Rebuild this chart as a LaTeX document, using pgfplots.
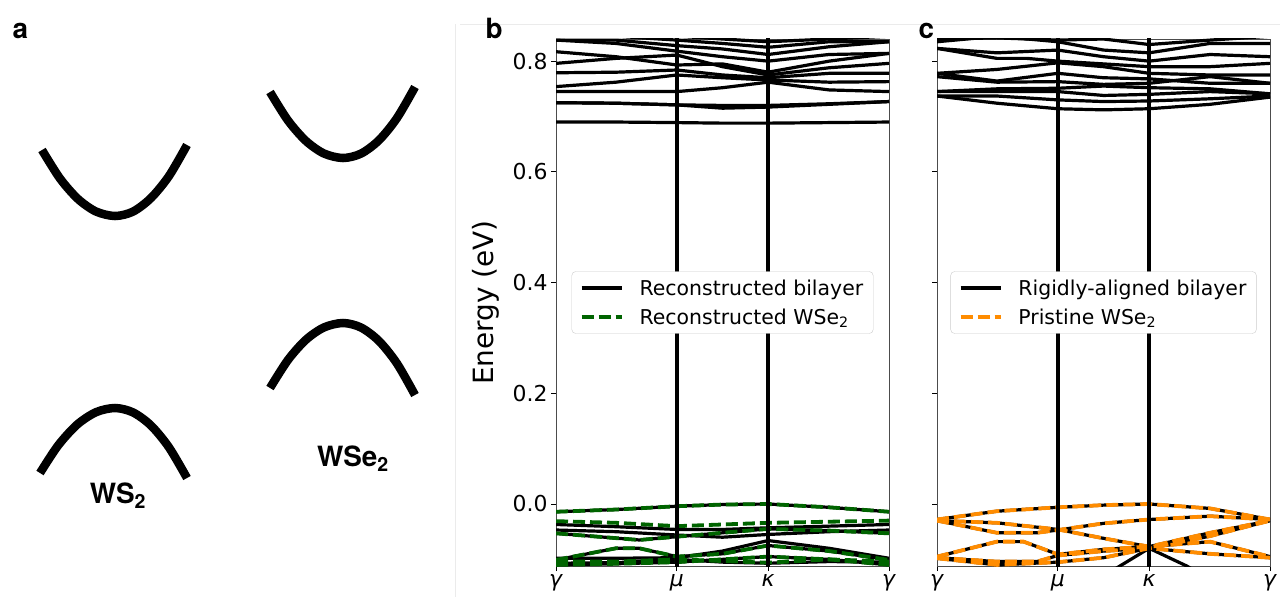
\documentclass[border=0pt]{standalone}
\usepackage{pgfplots}
\pgfplotsset{compat=1.18}
\usepackage{fontspec}
\setmainfont{DejaVu Sans}
\newfontfamily\heros{TeX Gyre Heros}
\definecolor{dgreen}{RGB}{0,100,0}
\definecolor{dorange}{RGB}{255,140,0}
\pgfplotsset{
  band/.style={black, line width=3.2bp, forget plot},
  wse/.style={dgreen, line width=3.8bp, dash pattern=on 12bp off 5bp, forget plot},
  pri/.style={dorange, line width=3.8bp, dash pattern=on 12bp off 5bp, forget plot},
  vl/.style={black, line width=3.5bp, forget plot},
  bandaxis/.style={
    anchor=south west, scale only axis, width=333bp, height=527bp,
    xmin=0, xmax=1, ymin=-0.112, ymax=0.84,
    xtick={0,0.363,0.637,1},
    xticklabels={\textit{γ},\textit{μ},\textit{κ},\textit{γ}},
    ytick={0,0.2,0.4,0.6,0.8},
    xtick pos=left, ytick pos=left, tick align=outside,
    major tick length=5bp,
    every tick/.style={black, line width=0.8bp},
    axis line style={black!70, line width=0.8bp},
    ticklabel style={font=\fontsize{22}{26}\selectfont},
    yticklabel style={/pgf/number format/.cd, fixed, fixed zerofill, precision=1, assume math mode=true},
    legend cell align=left,
    legend image code/.code={\draw[##1] (0bp,0bp) -- (40bp,0bp);},
    legend style={at={(0.5,0.5)}, anchor=center, draw=black!20, rounded corners=4bp,
      fill=white, font=\fontsize{20.5}{24}\selectfont, inner xsep=8bp, inner ysep=6bp,
      row sep=8bp, /tikz/every odd column/.append style={column sep=14bp}},
  }
}
\begin{document}
\begin{tikzpicture}
\useasboundingbox (0,0) rectangle (1280bp,-597bp);
\draw[black!8, line width=1bp] (460bp,-24bp) -- (1280bp,-24bp);
\draw[black!8, line width=1bp] (455bp,-24bp) -- (455bp,-597bp);

% ---------- panel a ----------
\begin{axis}[at={(0bp,-597bp)}, anchor=south west, scale only axis,
  width=460bp, height=597bp, xmin=0, xmax=460, ymin=0, ymax=597,
  y dir=reverse, hide axis, clip=false]
\addplot[black, line width=8.5bp, smooth] coordinates {
 (42,150) (60,178.5) (78,199) (96,211.5) (115,216) (133,211.6) (151,198) (169,176) (187,145)};
\addplot[black, line width=8.5bp, smooth] coordinates {
 (40,473) (58,445.6) (77,424.7) (96,412.2) (115,408) (133,412.4) (151,425.5) (169,447.4) (187,478)};
\addplot[black, line width=8.5bp, smooth] coordinates {
 (270,92) (288,120.5) (306,141) (324,153.5) (343,158) (361,153.6) (379,140.2) (397,118) (415,87)};
\addplot[black, line width=8.5bp, smooth] coordinates {
 (270,388) (288,359.9) (306,339.7) (324,327.4) (343,323) (361,327.5) (379,341) (397,363.5) (415,395)};
\end{axis}
\node[anchor=base, font=\heros\bfseries\fontsize{28}{30}\selectfont] at (118bp,-503bp) {WS\textsubscript{2}};
\node[anchor=base, font=\heros\bfseries\fontsize{28}{30}\selectfont] at (353bp,-466bp) {WSe\textsubscript{2}};

% ---------- panel b ----------
\begin{axis}[bandaxis, at={(556bp,-566bp)},
  ylabel={Energy (eV)},
  ylabel style={at={(axis description cs:-0.171,0.5)}, anchor=south, inner sep=0pt,
    font=\fontsize{28}{32}\selectfont}]
\addlegendimage{black, line width=3.2bp}
\addlegendentry{Reconstructed bilayer}
\addlegendimage{dgreen, line width=3.8bp, dash pattern=on 12bp off 5bp}
\addlegendentry{Reconstructed WSe\textsubscript{2}}
% conduction bands
\addplot[band] coordinates {(0,.690) (.18,.690) (.363,.689) (.5,.688) (.637,.688) (.82,.689) (1,.690)};
\addplot[band] coordinates {(0,.725) (.18,.724) (.363,.721) (.5,.720) (.637,.720) (.82,.723) (1,.727)};
\addplot[band] coordinates {(0,.725) (.18,.724) (.363,.721) (.5,.715) (.637,.717) (.82,.722) (1,.727)};
\addplot[band] coordinates {(0,.745) (.18,.745) (.363,.745) (.5,.752) (.637,.762) (.82,.748) (1,.745)};
\addplot[band] coordinates {(0,.754) (.18,.762) (.363,.775) (.5,.770) (.637,.766) (.82,.762) (1,.763)};
\addplot[band] coordinates {(0,.779) (.18,.780) (.363,.784) (.5,.775) (.637,.770) (.82,.778) (1,.778)};
\addplot[band] coordinates {(0,.796) (.18,.805) (.363,.811) (.5,.790) (.637,.775) (.82,.788) (1,.796)};
\addplot[band] coordinates {(0,.817) (.18,.808) (.363,.793) (.5,.795) (.637,.780) (.82,.800) (1,.814)};
\addplot[band] coordinates {(0,.838) (.18,.832) (.363,.818) (.5,.808) (.637,.800) (.82,.812) (1,.814)};
\addplot[band] coordinates {(0,.838) (.18,.838) (.363,.828) (.5,.822) (.637,.812) (.82,.826) (1,.835)};
\addplot[band] coordinates {(0,.845) (.18,.845) (.363,.838) (.5,.832) (.637,.825) (.82,.835) (1,.835)};
\addplot[band] coordinates {(0,.850) (.18,.850) (.363,.845) (.5,.840) (.637,.835) (.82,.840) (1,.845)};
% valence bands (bilayer)
\addplot[band] coordinates {(0,-.014) (.18,-.010) (.363,-.004) (.5,-.001) (.637,.000) (.82,-.006) (1,-.014)};
\addplot[band] coordinates {(0,-.037) (.18,-.041) (.363,-.046) (.5,-.046) (.637,-.043) (.82,-.040) (1,-.037)};
\addplot[band] coordinates {(0,-.047) (.18,-.050) (.363,-.056) (.5,-.060) (.637,-.055) (.82,-.050) (1,-.047)};
\addplot[band] coordinates {(0,-.053) (.25,-.065) (.363,-.059) (.5,-.052) (.637,-.045) (.82,-.048) (1,-.053)};
\addplot[band] coordinates {(0,-.101) (.18,-.080) (.25,-.080) (.363,-.095) (.5,-.090) (.637,-.075) (.82,-.085) (1,-.101)};
\addplot[band] coordinates {(0,-.098) (.18,-.098) (.363,-.097) (.5,-.085) (.637,-.066) (.82,-.080) (1,-.098)};
\addplot[band] coordinates {(0,-.107) (.18,-.106) (.363,-.100) (.5,-.105) (.637,-.107) (.82,-.104) (1,-.105)};
\addplot[band] coordinates {(0,-.110) (.18,-.108) (.363,-.105) (.5,-.100) (.637,-.095) (.82,-.100) (1,-.110)};
% WSe2 bands
\addplot[wse] coordinates {(0,-.014) (.18,-.010) (.363,-.004) (.5,-.001) (.637,.000) (.82,-.006) (1,-.014)};
\addplot[wse] coordinates {(0,-.031) (.18,-.034) (.363,-.040) (.5,-.037) (.637,-.034) (.82,-.032) (1,-.030)};
\addplot[wse] coordinates {(0,-.053) (.25,-.065) (.363,-.059) (.5,-.052) (.637,-.045) (.82,-.048) (1,-.053)};
\addplot[wse] coordinates {(0,-.101) (.18,-.080) (.25,-.080) (.363,-.095) (.5,-.090) (.637,-.075) (.82,-.085) (1,-.101)};
\addplot[wse] coordinates {(0,-.104) (.18,-.104) (.363,-.100) (.5,-.103) (.637,-.106) (.82,-.100) (1,-.104)};
\addplot[wse] coordinates {(0,-.110) (.18,-.108) (.363,-.105) (.5,-.100) (.637,-.095) (.82,-.100) (1,-.110)};
% high-symmetry lines
\addplot[vl] coordinates {(0.363,-0.2) (0.363,1)};
\addplot[vl] coordinates {(0.637,-0.2) (0.637,1)};
\end{axis}

% ---------- panel c ----------
\begin{axis}[bandaxis, at={(937bp,-566bp)}, yticklabels={}]
\addlegendimage{black, line width=3.2bp}
\addlegendentry{Rigidly-aligned bilayer}
\addlegendimage{dorange, line width=3.8bp, dash pattern=on 12bp off 5bp}
\addlegendentry{Pristine WSe\textsubscript{2}}
% conduction bands
\addplot[band] coordinates {(0,.737) (.18,.724) (.363,.714) (.5,.712) (.637,.714) (.82,.722) (1,.735)};
\addplot[band] coordinates {(0,.737) (.18,.737) (.363,.730) (.5,.727) (.637,.728) (.82,.732) (1,.737)};
\addplot[band] coordinates {(0,.745) (.18,.745) (.363,.745) (.5,.738) (.637,.740) (.82,.745) (1,.741)};
\addplot[band] coordinates {(0,.745) (.18,.750) (.363,.751) (.5,.755) (.637,.752) (.82,.750) (1,.741)};
\addplot[band] coordinates {(0,.772) (.18,.762) (.363,.763) (.5,.758) (.637,.760) (.82,.772) (1,.760)};
\addplot[band] coordinates {(0,.778) (.18,.764) (.363,.778) (.5,.770) (.637,.768) (.82,.760) (1,.760)};
\addplot[band] coordinates {(0,.778) (.18,.785) (.363,.797) (.5,.790) (.637,.778) (.82,.775) (1,.775)};
\addplot[band] coordinates {(0,.823) (.18,.805) (.27,.805) (.363,.800) (.5,.795) (.637,.790) (.82,.790) (1,.796)};
\addplot[band] coordinates {(0,.823) (.18,.815) (.363,.820) (.5,.808) (.637,.800) (.82,.812) (1,.808)};
\addplot[band] coordinates {(0,.835) (.18,.845) (.363,.835) (.5,.820) (.637,.815) (.82,.832) (1,.832)};
\addplot[band] coordinates {(0,.840) (.18,.842) (.363,.838) (.5,.840) (.637,.830) (.82,.838) (1,.845)};
% valence bands
\addplot[band] coordinates {(0,-.028) (.18,-.013) (.363,-.006) (.5,-.002) (.637,.000) (.82,-.008) (1,-.028)};
\addplot[band] coordinates {(0,-.030) (.18,-.034) (.363,-.046) (.5,-.062) (.637,-.077) (.82,-.052) (1,-.030)};
\addplot[band] coordinates {(0,-.030) (.18,-.052) (.3,-.052) (.363,-.047) (.5,-.035) (.637,-.028) (.82,-.022) (1,-.028)};
\addplot[band] coordinates {(0,-.095) (.18,-.068) (.26,-.068) (.363,-.091) (.5,-.082) (.637,-.077) (.82,-.068) (1,-.095)};
\addplot[band] coordinates {(0,-.097) (.18,-.104) (.3,-.104) (.363,-.093) (.5,-.085) (.637,-.080) (.82,-.058) (1,-.030)};
\addplot[band] coordinates {(0,-.098) (.18,-.110) (.363,-.105) (.5,-.097) (.637,-.080) (.82,-.090) (1,-.097)};
\addplot[band] coordinates {(.5,-.13) (.637,-.080) (.75,-.112) (.8,-.13)};
\addplot[pri] coordinates {(0,-.028) (.18,-.013) (.363,-.006) (.5,-.002) (.637,.000) (.82,-.008) (1,-.028)};
\addplot[pri] coordinates {(0,-.030) (.18,-.034) (.363,-.046) (.5,-.062) (.637,-.077) (.82,-.052) (1,-.030)};
\addplot[pri] coordinates {(0,-.030) (.18,-.052) (.3,-.052) (.363,-.047) (.5,-.035) (.637,-.028) (.82,-.022) (1,-.028)};
\addplot[pri] coordinates {(0,-.095) (.18,-.068) (.26,-.068) (.363,-.091) (.5,-.082) (.637,-.077) (.82,-.068) (1,-.095)};
\addplot[pri] coordinates {(0,-.097) (.18,-.104) (.3,-.104) (.363,-.093) (.5,-.085) (.637,-.080) (.82,-.058) (1,-.030)};
\addplot[pri] coordinates {(0,-.098) (.18,-.110) (.363,-.105) (.5,-.097) (.637,-.080) (.82,-.090) (1,-.097)};
\addplot[vl] coordinates {(0.363,-0.2) (0.363,1)};
\addplot[vl] coordinates {(0.637,-0.2) (0.637,1)};
\end{axis}

\node[anchor=base west, font=\heros\bfseries\fontsize{28}{30}\selectfont] at (9bp,-38bp) {a};
\node[anchor=base west, font=\heros\bfseries\fontsize{28}{30}\selectfont] at (482bp,-38bp) {b};
\node[anchor=base west, font=\heros\bfseries\fontsize{28}{30}\selectfont] at (915bp,-38bp) {c};
\end{tikzpicture}
\end{document}
